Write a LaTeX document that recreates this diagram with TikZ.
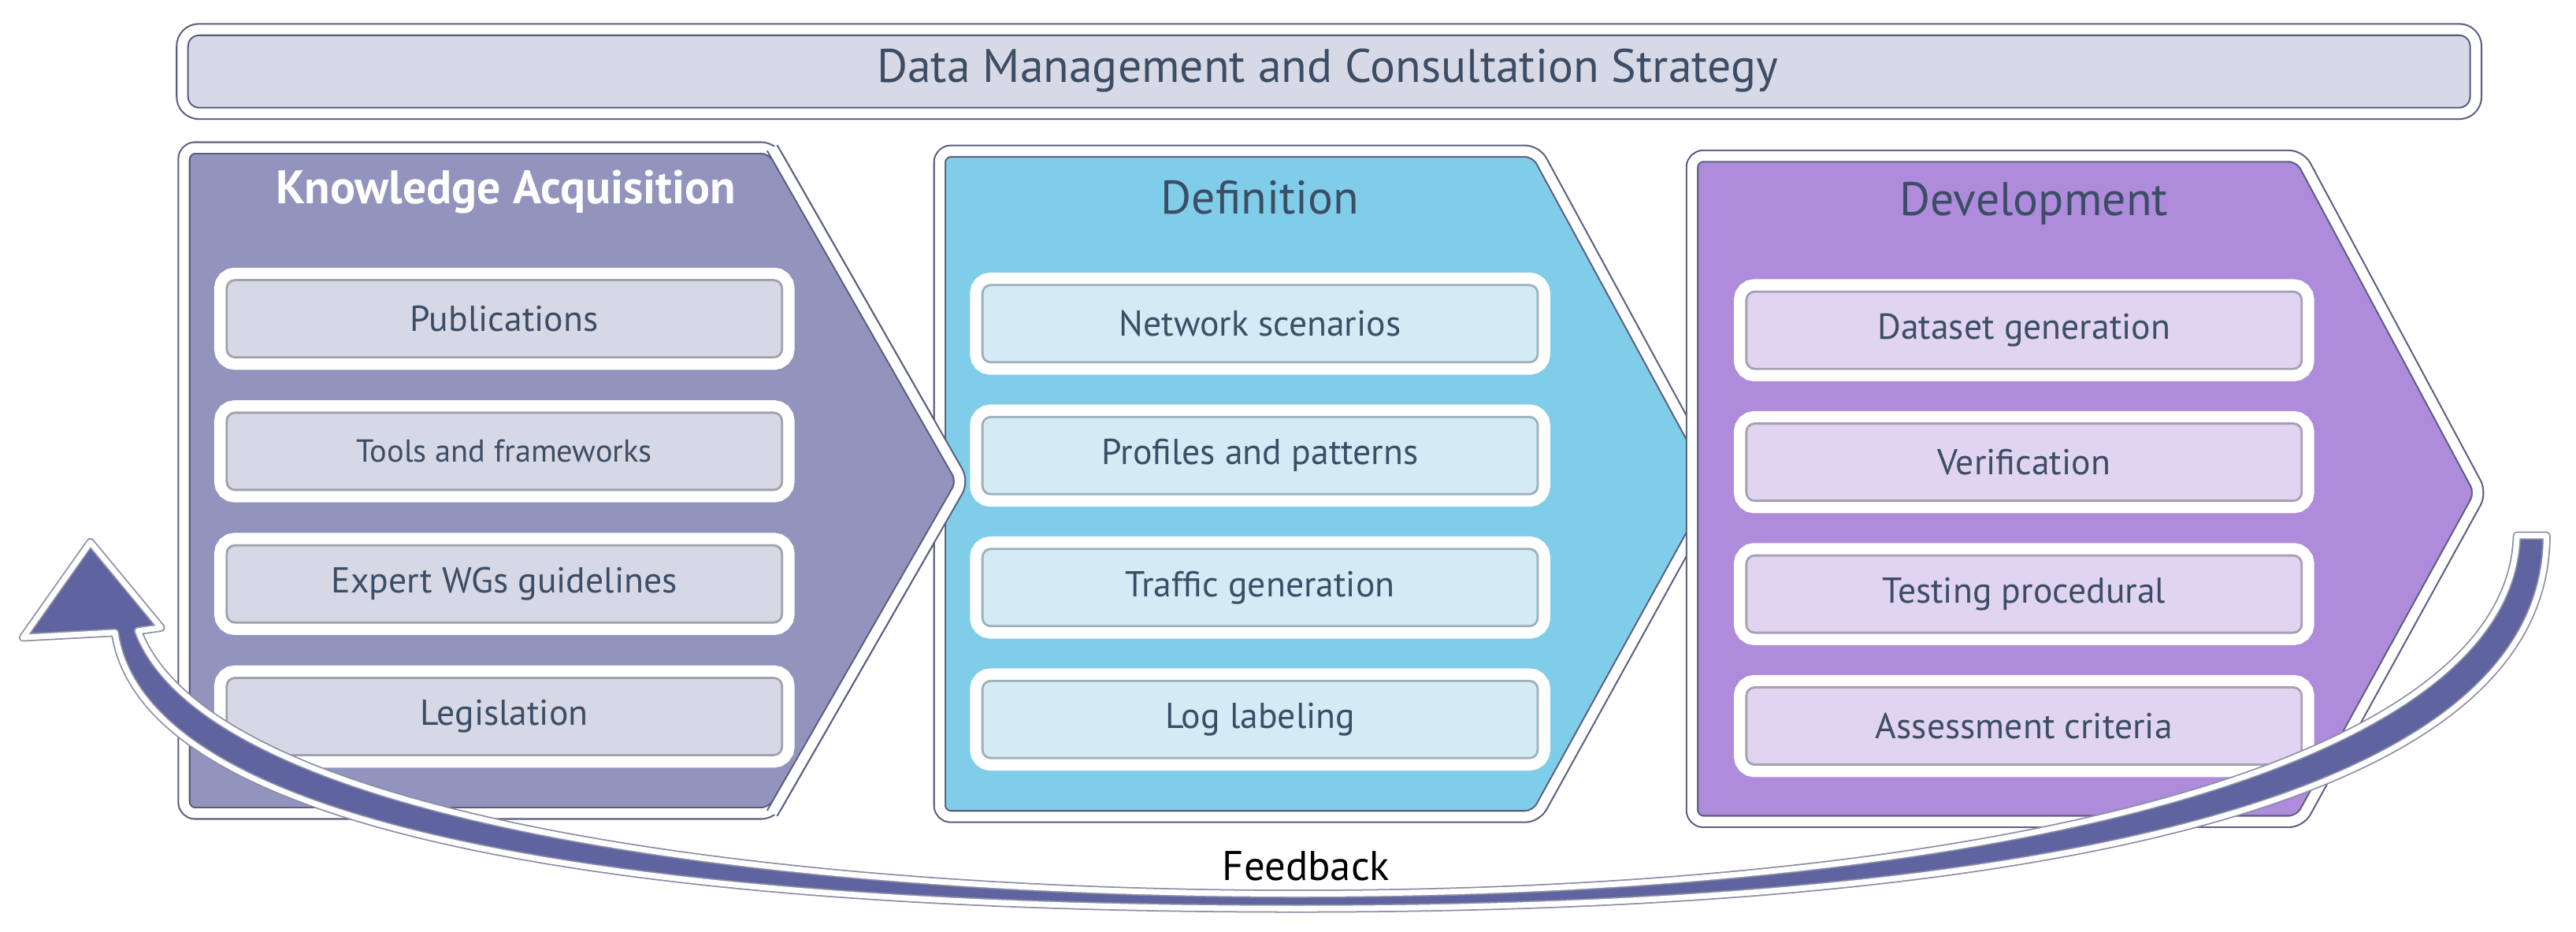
\documentclass[tikz,border=0pt]{standalone}
\usepackage{fontspec}
\setmainfont{PT Sans}
\usetikzlibrary{positioning}
\definecolor{txtblue}{HTML}{3C4D66}
\definecolor{barfill}{HTML}{D8D9E6}
\definecolor{kafill}{HTML}{9294BD}
\definecolor{kabox}{HTML}{D7D8E6}
\definecolor{deffill}{HTML}{80CDEA}
\definecolor{defbox}{HTML}{D3EBF5}
\definecolor{devfill}{HTML}{AE8BDB}
\definecolor{devbox}{HTML}{E1D4F0}
\definecolor{fbfill}{HTML}{5F64A0}
\definecolor{rimgray}{HTML}{5A5E80}
\begin{document}
\begin{tikzpicture}[x=0.02086cm, y=-0.02086cm]
      \tikzstyle{chevron}=[draw=rimgray, line width=0.6pt, double=white, double distance=3.5pt, line join=round]
      \tikzstyle{step}=[draw=#1!75!black, line width=0.8pt, fill=#1, rounded corners=3pt,
          preaction={draw=white, line width=9pt, rounded corners=8pt},
          minimum width=7.05cm, minimum height=0.98cm, text=txtblue]
      \tikzstyle{title}=[font=\fontsize{17}{20}\selectfont]
      \useasboundingbox (0,0) rectangle (1568,567);

      % top bar
      \draw [chevron, rounded corners=6pt, fill=barfill] (111,18) rectangle (1507,69);
      \node [title, text=txtblue] (strategy) at (808,43) {Data Management and Consultation Strategy};

      % draw chevrons
      \draw [chevron, fill=kafill, rounded corners=4pt] (112,90) -- (470,90) -- (586,293) -- (470,495) -- (112,495) -- cycle;
      \draw [chevron, fill=deffill, rounded corners=4pt] (572,92) -- (935,92) -- (1046,296) -- (935,497) -- (572,497) -- cycle;
      \draw [chevron, fill=devfill, rounded corners=4pt] (1030,95) -- (1400,95) -- (1510,300) -- (1400,500) -- (1030,500) -- cycle;
      \draw [chevron, fill=kafill, rounded corners=4pt] (470,90) -- (586,293) -- (470,495);

      \node [text=white, font=\fontsize{17}{20}\selectfont\bfseries] (ka) at (308,117) {Knowledge Acquisition};
      \node [title, text=txtblue] (def) at (767,120) {Definition};
      \node [title, text=txtblue] (dev) at (1238,124) {Development};

      % draw steps
      \foreach \l/\s [count=\y] in {Publications/13, Tools and frameworks/11.5, Expert WGs guidelines/13, Legislation/13}
      \node [step=kabox, font=\fontsize{\s}{15}\selectfont] (ka-\y) at (307,194+\y*80.7-80.7) {\l};

      \foreach \l [count=\y] in {Network scenarios, Profiles and patterns, Traffic generation, Log labeling}
      \node [step=defbox, font=\fontsize{13}{15}\selectfont] (def-\y) at (767,197+\y*80.3-80.3) {\l};

      \foreach \l [count=\y] in {Dataset generation, Verification, Testing procedural, Assessment criteria}
      \node [step=devbox, font=\fontsize{13}{15}\selectfont] (dev-\y) at (1232,201+\y*80.3-80.3) {\l};

      % feedback arrow
      \draw [draw=rimgray!70, line width=0.5pt, double=white, double distance=2pt, fill=fbfill, line join=round]
        (70,385) -- (14,388) -- (55,330) -- (98,382) -- (84,384)
        .. controls (130,505) and (500,544) .. (790,544)
        .. controls (1200,544) and (1528,470) .. (1532,326)
        -- (1550,326)
        .. controls (1550,500) and (1200,553) .. (790,553)
        .. controls (450,553) and (90,520) .. (70,385) -- cycle;
      \node [font=\fontsize{15}{18}\selectfont, fill=white, inner sep=1pt] (feedback) at (795,527) {Feedback};
\end{tikzpicture}
\end{document}
